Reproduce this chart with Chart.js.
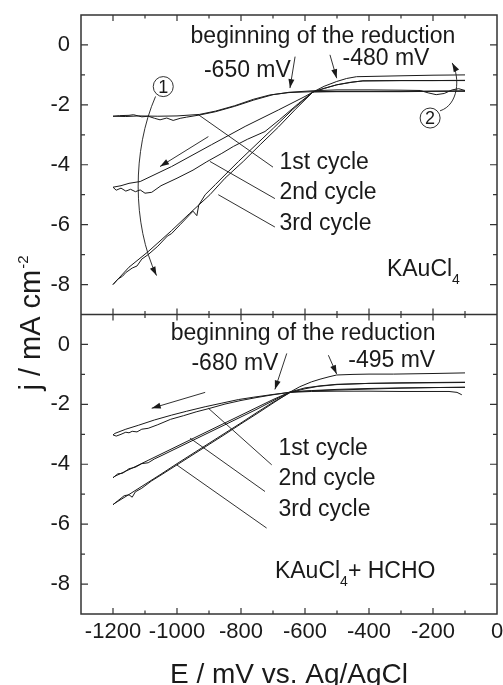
<!DOCTYPE html>
<html>
<head>
<meta charset="utf-8">
<script src="https://cdn.jsdelivr.net/npm/chart.js@4.4.0/dist/chart.umd.min.js"></script>
<style>
  html, body { margin: 0; padding: 0; background: #fff; }
  #wrap { width: 503px; height: 685px; }
</style>
</head>
<body>
<div id="wrap"><canvas id="chart" width="503" height="685"></canvas></div>
<script>
// axis ranges (mV, mA cm-2) and labelled ticks
var eMin = -1300, eMax = 0;
var jMin = -9, jMax = 1;
var xTicks = [-1200, -1000, -800, -600, -400, -200, 0];
var yTicks = [-8, -6, -4, -2, 0];

// ---- upper panel: KAuCl4 ----
var topC1FwdE = [-100, -200, -300, -400, -500, -575, -650, -710, -760, -820, -880, -930, -1000, -1060, -1120, -1160, -1200];
var topC1FwdJ = [-1.53, -1.54, -1.55, -1.55, -1.55, -1.56, -1.59, -1.67, -1.81, -2.03, -2.21, -2.32, -2.37, -2.38, -2.37, -2.39, -2.38];
var topC1RevE = [-1200, -1180, -1150, -1136, -1110, -1090, -1070, -1053, -1032, -1012, -990, -970, -930, -880, -820, -760, -700, -650, -575, -500, -400, -300, -240, -215, -190, -165, -140, -120, -100];
var topC1RevJ = [-2.38, -2.36, -2.35, -2.33, -2.40, -2.38, -2.45, -2.50, -2.44, -2.52, -2.45, -2.41, -2.34, -2.23, -2.05, -1.84, -1.66, -1.58, -1.53, -1.50, -1.50, -1.51, -1.52, -1.60, -1.66, -1.62, -1.50, -1.46, -1.52];
var topC2FwdE = [-100, -200, -300, -400, -500, -575, -600, -683, -787, -892, -1017, -1115, -1150, -1175, -1200];
var topC2FwdJ = [-1.55, -1.55, -1.56, -1.56, -1.56, -1.57, -1.72, -2.17, -2.72, -3.33, -4.06, -4.56, -4.62, -4.70, -4.75];
var topC2RevE = [-1200, -1190, -1175, -1160, -1145, -1130, -1115, -1100, -1079, -1050, -1000, -950, -907, -860, -824, -780, -725, -680, -620, -575, -540, -500, -450, -419, -300, -200, -100];
var topC2RevJ = [-4.75, -4.85, -4.78, -4.88, -4.82, -4.90, -4.84, -4.95, -4.92, -4.70, -4.45, -4.18, -3.90, -3.62, -3.39, -3.15, -2.89, -2.50, -1.95, -1.57, -1.45, -1.33, -1.24, -1.20, -1.19, -1.19, -1.18];
var topC3FwdE = [-100, -200, -300, -419, -460, -501, -540, -575, -630, -683, -740, -793, -850, -897, -960, -1017, -1090, -1150, -1200];
var topC3FwdJ = [-1.19, -1.19, -1.19, -1.20, -1.25, -1.33, -1.45, -1.57, -2.15, -2.74, -3.33, -3.89, -4.45, -5.00, -5.62, -6.20, -6.90, -7.42, -8.00];
var topC3RevE = [-1200, -1185, -1170, -1160, -1140, -1125, -1110, -1090, -1060, -1030, -1017, -990, -950, -938, -932, -912, -880, -808, -750, -699, -640, -575, -540, -501, -470, -439, -300, -200, -100];
var topC3RevJ = [-8.00, -7.82, -7.72, -7.60, -7.45, -7.38, -7.15, -7.00, -6.72, -6.38, -6.30, -6.00, -5.55, -5.70, -5.35, -5.00, -4.66, -3.89, -3.30, -2.78, -2.17, -1.57, -1.38, -1.22, -1.12, -1.06, -1.03, -1.01, -1.00];

// ---- lower panel: KAuCl4 + HCHO ----
var botC1FwdE = [-110, -125, -150, -200, -300, -400, -500, -580, -645, -700, -760, -808, -860, -912, -970, -1017, -1070, -1121, -1160, -1194, -1200];
var botC1FwdJ = [-1.68, -1.60, -1.57, -1.57, -1.57, -1.56, -1.56, -1.57, -1.60, -1.67, -1.76, -1.84, -1.96, -2.08, -2.23, -2.36, -2.52, -2.70, -2.83, -2.97, -3.02];
var botC1RevE = [-1200, -1190, -1175, -1160, -1150, -1140, -1125, -1110, -1090, -1060, -1020, -980, -940, -900, -850, -800, -750, -700, -645, -580, -500, -400, -300, -200, -100];
var botC1RevJ = [-3.02, -3.06, -3.00, -2.93, -2.95, -2.90, -2.92, -2.83, -2.80, -2.68, -2.50, -2.38, -2.25, -2.14, -1.99, -1.87, -1.77, -1.68, -1.59, -1.54, -1.50, -1.47, -1.45, -1.44, -1.43];
var botC2FwdE = [-100, -200, -300, -400, -500, -580, -645, -700, -750, -800, -850, -900, -950, -1000, -1050, -1100, -1150, -1194, -1200];
var botC2FwdJ = [-1.43, -1.44, -1.46, -1.49, -1.52, -1.55, -1.58, -1.84, -2.10, -2.36, -2.62, -2.88, -3.14, -3.40, -3.66, -3.92, -4.18, -4.40, -4.45];
var botC2RevE = [-1200, -1185, -1170, -1150, -1130, -1110, -1090, -1070, -1050, -1000, -950, -900, -850, -800, -750, -700, -645, -600, -550, -500, -400, -300, -200, -100];
var botC2RevJ = [-4.45, -4.32, -4.30, -4.15, -4.10, -3.98, -3.95, -3.82, -3.72, -3.46, -3.20, -2.94, -2.68, -2.42, -2.16, -1.88, -1.58, -1.45, -1.38, -1.33, -1.30, -1.29, -1.28, -1.27];
var botC3FwdE = [-100, -200, -300, -400, -500, -560, -600, -645, -700, -750, -800, -850, -900, -950, -1000, -1050, -1100, -1150, -1194, -1200];
var botC3FwdJ = [-1.26, -1.27, -1.28, -1.30, -1.34, -1.40, -1.48, -1.60, -1.93, -2.27, -2.62, -2.96, -3.30, -3.64, -3.98, -4.33, -4.67, -5.01, -5.30, -5.35];
var botC3RevE = [-1200, -1185, -1165, -1150, -1140, -1130, -1110, -1080, -1050, -1000, -950, -900, -850, -800, -750, -700, -645, -616, -580, -553, -525, -501, -450, -400, -324, -200, -100];
var botC3RevJ = [-5.35, -5.22, -5.05, -5.02, -5.10, -4.92, -4.80, -4.56, -4.36, -4.02, -3.68, -3.34, -3.00, -2.65, -2.31, -1.96, -1.58, -1.41, -1.25, -1.16, -1.08, -1.02, -1.00, -0.99, -0.99, -0.97, -0.95];

// text labels, anchored in data units
var topNotes = [
  ['beginning of the reduction', -544, 0.06, 'center'],
  ['-650 mV', -780, -1.08, 'center'],
  ['-480 mV', -347, -0.67, 'center'],
  ['1st cycle', -680, -4.13, 'left'],
  ['2nd cycle', -680, -5.15, 'left'],
  ['3rd cycle', -680, -6.18, 'left']
];
var botNotes = [
  ['beginning of the reduction', -606, 0.14, 'center'],
  ['-680 mV', -819, -0.86, 'center'],
  ['-495 mV', -329, -0.75, 'center'],
  ['1st cycle', -683, -3.69, 'left'],
  ['2nd cycle', -683, -4.69, 'left'],
  ['3rd cycle', -683, -5.72, 'left']
];
// leader lines [e1, j1, e2, j2]
var topLeaders = [[-933, -2.33, -700, -4.08], [-897, -3.89, -694, -5.13], [-871, -5.0, -694, -6.08]];
var botLeaders = [[-902, -2.13, -704, -4.02], [-959, -3.13, -725, -4.91], [-1001, -4.02, -720, -6.13]];
// straight arrows [e1, j1, e2, j2]
var topArrows = [[-631, -0.39, -647, -1.44], [-522, -0.33, -501, -1.11], [-902, -3.06, -1053, -4.06]];
var botArrows = [[-657, -0.30, -694, -1.50], [-527, -0.36, -501, -0.99], [-912, -1.60, -1079, -2.13]];

var family = '"Liberation Sans", Arial, Helvetica, sans-serif';
var ink = '#1a1a1a';

function toPoints(es, js) {
  return es.map(function (e, i) { return { x: e, y: js[i] }; });
}

var curves = [
  [topC1FwdE, topC1FwdJ, 'yTop'], [topC1RevE, topC1RevJ, 'yTop'],
  [topC2FwdE, topC2FwdJ, 'yTop'], [topC2RevE, topC2RevJ, 'yTop'],
  [topC3FwdE, topC3FwdJ, 'yTop'], [topC3RevE, topC3RevJ, 'yTop'],
  [botC1FwdE, botC1FwdJ, 'yBot'], [botC1RevE, botC1RevJ, 'yBot'],
  [botC2FwdE, botC2FwdJ, 'yBot'], [botC2RevE, botC2RevJ, 'yBot'],
  [botC3FwdE, botC3FwdJ, 'yBot'], [botC3RevE, botC3RevJ, 'yBot']
];

var datasets = curves.map(function (c) {
  return {
    data: toPoints(c[0], c[1]),
    yAxisID: c[2],
    showLine: true,
    borderColor: ink,
    borderWidth: 1,
    pointRadius: 0,
    fill: false,
    tension: 0
  };
});

function drawArrowHead(ctx, x, y, ang, len, half) {
  ctx.beginPath();
  ctx.moveTo(x, y);
  ctx.lineTo(x - len * Math.cos(ang) + half * Math.sin(ang), y - len * Math.sin(ang) - half * Math.cos(ang));
  ctx.lineTo(x - len * Math.cos(ang) - half * Math.sin(ang), y - len * Math.sin(ang) + half * Math.cos(ang));
  ctx.closePath();
  ctx.fill();
}

function drawPanelNotes(ctx, xs, ys, notes, leaders, arrows) {
  ctx.fillStyle = ink;
  ctx.strokeStyle = ink;
  ctx.font = '23px ' + family;
  ctx.textBaseline = 'alphabetic';
  notes.forEach(function (n) {
    ctx.textAlign = n[3];
    ctx.fillText(n[0], xs.getPixelForValue(n[1]), ys.getPixelForValue(n[2]));
  });
  ctx.lineWidth = 0.9;
  leaders.forEach(function (l) {
    ctx.beginPath();
    ctx.moveTo(xs.getPixelForValue(l[0]), ys.getPixelForValue(l[1]));
    ctx.lineTo(xs.getPixelForValue(l[2]), ys.getPixelForValue(l[3]));
    ctx.stroke();
  });
  arrows.forEach(function (a) {
    var x1 = xs.getPixelForValue(a[0]), y1 = ys.getPixelForValue(a[1]);
    var x2 = xs.getPixelForValue(a[2]), y2 = ys.getPixelForValue(a[3]);
    ctx.beginPath();
    ctx.moveTo(x1, y1);
    ctx.lineTo(x2, y2);
    ctx.stroke();
    drawArrowHead(ctx, x2, y2, Math.atan2(y2 - y1, x2 - x1), 9, 3);
  });
}

function drawSubText(ctx, parts, x, y) {
  // parts: [text, size, dy]
  ctx.textAlign = 'left';
  parts.forEach(function (p) {
    ctx.font = p[1] + 'px ' + family;
    ctx.fillText(p[0], x, y + p[2]);
    x += ctx.measureText(p[0]).width;
  });
}

function curvedArrow(ctx, xs, ys, p) {
  var pts = [];
  for (var i = 0; i < 4; i++) pts.push([xs.getPixelForValue(p[i][0]), ys.getPixelForValue(p[i][1])]);
  ctx.beginPath();
  ctx.moveTo(pts[0][0], pts[0][1]);
  ctx.bezierCurveTo(pts[1][0], pts[1][1], pts[2][0], pts[2][1], pts[3][0], pts[3][1]);
  ctx.stroke();
  drawArrowHead(ctx, pts[3][0], pts[3][1], Math.atan2(pts[3][1] - pts[2][1], pts[3][0] - pts[2][0]), 9, 3);
}

function circledNumber(ctx, xs, ys, label, e, j) {
  var cx = xs.getPixelForValue(e), cy = ys.getPixelForValue(j);
  ctx.beginPath();
  ctx.arc(cx, cy, 10, 0, Math.PI * 2);
  ctx.fillStyle = '#fff';
  ctx.fill();
  ctx.stroke();
  ctx.fillStyle = ink;
  ctx.font = '18px ' + family;
  ctx.textAlign = 'center';
  ctx.textBaseline = 'middle';
  ctx.fillText(label, cx, cy + 1);
  ctx.textBaseline = 'alphabetic';
}

var framePlugin = {
  id: 'frame',
  beforeDraw: function (chart) {
    var ctx = chart.ctx;
    ctx.save();
    ctx.fillStyle = '#fff';
    ctx.fillRect(0, 0, chart.width, chart.height);
    ctx.restore();
  },
  afterDatasetsDraw: function (chart) {
    var ctx = chart.ctx;
    var xs = chart.scales.x, yt = chart.scales.yTop, yb = chart.scales.yBot;
    var left = xs.left, right = xs.right;
    var top = yt.top, mid = yt.bottom, bottom = yb.bottom;
    ctx.save();

    // frame
    ctx.strokeStyle = '#333';
    ctx.lineWidth = 1.5;
    ctx.strokeRect(left, top, right - left, bottom - top);
    ctx.beginPath();
    ctx.moveTo(left, mid);
    ctx.lineTo(right, mid);
    ctx.stroke();

    // inward ticks
    ctx.lineWidth = 1.2;
    ctx.beginPath();
    for (var v = -1200; v <= -100; v += 100) {
      var px = xs.getPixelForValue(v);
      var len = v % 200 === 0 ? 6 : 3.5;
      ctx.moveTo(px, top); ctx.lineTo(px, top + len);
      ctx.moveTo(px, mid - len); ctx.lineTo(px, mid + len);
      ctx.moveTo(px, bottom - len); ctx.lineTo(px, bottom);
    }
    [yt, yb].forEach(function (s) {
      for (var k = 0; k >= -8; k--) {
        var py = s.getPixelForValue(k);
        var l2 = k % 2 === 0 ? 7 : 4;
        ctx.moveTo(left, py); ctx.lineTo(left + l2, py);
        ctx.moveTo(right - l2, py); ctx.lineTo(right, py);
      }
    });
    ctx.stroke();

    // annotations
    drawPanelNotes(ctx, xs, yt, topNotes, topLeaders, topArrows);
    drawPanelNotes(ctx, xs, yb, botNotes, botLeaders, botArrows);

    ctx.lineWidth = 0.9;
    curvedArrow(ctx, xs, yt, [[-1067, -1.72], [-1140, -3.5], [-1140, -6.0], [-1064, -7.7]]);
    curvedArrow(ctx, xs, yt, [[-178, -2.2], [-120, -2.0], [-115, -1.1], [-140, -0.6]]);
    circledNumber(ctx, xs, yt, '1', -1043, -1.39);
    circledNumber(ctx, xs, yt, '2', -209, -2.44);

    ctx.fillStyle = ink;
    ctx.textBaseline = 'alphabetic';
    drawSubText(ctx, [['KAuCl', 23, 0], ['4', 14, 8]], xs.getPixelForValue(-344), yt.getPixelForValue(-7.73));
    drawSubText(ctx, [['KAuCl', 23, 0], ['4', 14, 8], ['+ HCHO', 23, 0]], xs.getPixelForValue(-694), yb.getPixelForValue(-7.8));

    // axis titles
    ctx.font = '28px ' + family;
    ctx.textAlign = 'center';
    ctx.fillText('E / mV vs. Ag/AgCl', (left + right) / 2, 683);

    ctx.translate(40, mid + 9);
    ctx.rotate(-Math.PI / 2);
    ctx.font = '29px ' + family;
    var w1 = ctx.measureText('j / mA cm').width;
    ctx.font = '15px ' + family;
    var w2 = ctx.measureText('-2').width;
    var start = -(w1 + w2) / 2;
    ctx.textAlign = 'left';
    ctx.font = '29px ' + family;
    ctx.fillText('j / mA cm', start, 0);
    ctx.font = '15px ' + family;
    ctx.fillText('-2', start + w1 + 1, -12);
    ctx.restore();
  }
};

function yScale() {
  return {
    type: 'linear',
    position: 'left',
    stack: 'j',
    stackWeight: 1,
    min: jMin,
    max: jMax,
    grid: { display: false, drawTicks: false },
    border: { display: false },
    ticks: {
      padding: 11,
      color: ink,
      font: { family: family, size: 22 },
      callback: function (v) { return String(v); }
    },
    afterBuildTicks: function (s) {
      s.ticks = yTicks.map(function (v) { return { value: v }; });
    },
    afterFit: function (s) { s.width = 81; s.paddingTop = 0; s.paddingBottom = 0; }
  };
}

new Chart(document.getElementById('chart'), {
  type: 'scatter',
  data: { datasets: datasets },
  options: {
    responsive: false,
    animation: false,
    devicePixelRatio: 1,
    layout: { padding: { top: 15, right: 6, left: 0, bottom: 0 } },
    plugins: { legend: { display: false }, tooltip: { enabled: false } },
    scales: {
      x: {
        type: 'linear',
        position: 'bottom',
        min: eMin,
        max: eMax,
        grid: { display: false, drawTicks: false },
        border: { display: false },
        ticks: {
          maxRotation: 0,
          autoSkip: false,
          padding: 5,
          color: ink,
          font: { family: family, size: 22 },
          callback: function (v) { return String(v); }
        },
        afterBuildTicks: function (s) {
          s.ticks = xTicks.map(function (v) { return { value: v }; });
        },
        afterFit: function (s) { s.height = 71; s.paddingLeft = 0; s.paddingRight = 0; }
      },
      // stacked scales are laid out last-first, so the lower panel is listed first
      yBot: yScale(),
      yTop: yScale()
    }
  },
  plugins: [framePlugin]
});
</script>
</body>
</html>
